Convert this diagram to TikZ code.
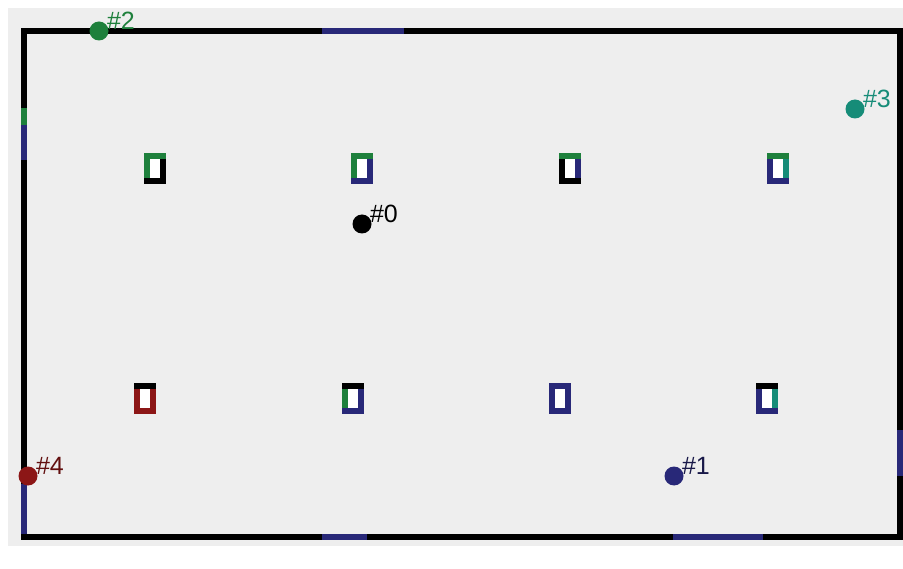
\documentclass[tikz,border=0pt]{standalone}
\usepackage{fontspec}
\setmainfont{Liberation Sans}
\definecolor{bggray}{RGB}{238,238,238}
\definecolor{agreen}{RGB}{30,128,60}
\definecolor{ateal}{RGB}{22,140,120}
\definecolor{anavy}{RGB}{40,40,120}
\definecolor{ared}{RGB}{140,22,22}
\tikzset{
  robot/.style={circle, fill=#1, inner sep=0pt, minimum size=19pt},
  tag/.style={text=#1, inner sep=0pt, font=\fontsize{25}{25}\selectfont, anchor=west},
  side/.style={line width=6pt, draw=#1},
}
\begin{document}
\begin{tikzpicture}[x=1pt, y=-1pt]
    \useasboundingbox (0,0) rectangle (903,569);
    \fill[bggray] (8,8) rectangle (903,546);
    % arena border with the coloured pieces on it
    \draw[line width=5.5pt] (24,31) rectangle (900,537);
    \draw[line width=5.5pt, anavy] (322,31) -- (404,31);
    \draw[line width=5.5pt, agreen] (24,108) -- (24,125);
    \draw[line width=5.5pt, anavy] (24,125) -- (24,160);
    \draw[line width=5.5pt, anavy] (24,484) -- (24,534);
    \draw[line width=5.5pt, anavy] (900,430) -- (900,476);
    \draw[line width=5.5pt, anavy] (322,537) -- (367,537);
    \draw[line width=5.5pt, anavy] (673,537) -- (763,537);

    % markers: \x,\y, then left, top, right, bottom colours
    \foreach \x/\y/\l/\t/\r/\b in {155/169/agreen/agreen/black/black,
                                   362/169/agreen/agreen/anavy/anavy,
                                   570/169/black/agreen/anavy/black,
                                   778/169/anavy/agreen/ateal/anavy,
                                   145/399/ared/black/ared/ared,
                                   353/399/agreen/black/anavy/anavy,
                                   560/399/anavy/anavy/anavy/anavy,
                                   767/399/anavy/black/ateal/anavy}
    {
      \fill[white] (\x-8,\y-12.5) rectangle (\x+8,\y+12.5);
      \draw[side=\l, line cap=rect] (\x-8,\y+12.5) -- (\x-8,\y-12.5);
      \draw[side=\r, line cap=rect] (\x+8,\y+12.5) -- (\x+8,\y-12.5);
      \draw[side=\t] (\x-11,\y-12.5) -- (\x+11,\y-12.5);
      \draw[side=\b] (\x-11,\y+12.5) -- (\x+11,\y+12.5);
    }

    % robots and their numbers
    \node[robot=black] (r0) at (362,224) {};
    \node[robot=anavy] (r1) at (674,476) {};
    \node[robot=agreen] (r2) at (99,31) {};
    \node[robot=ateal] (r3) at (855,109) {};
    \node[robot=ared] (r4) at (28,476) {};
    \path (r0.north east) node[tag=black, xshift=1pt, yshift=3pt] {\#0};
    \path (r1.north east) node[tag={anavy!60!black}, xshift=1pt, yshift=3pt] {\#1};
    \path (r2.north east) node[tag=agreen, xshift=1pt, yshift=3pt] {\#2};
    \path (r3.north east) node[tag=ateal, xshift=1pt, yshift=3pt] {\#3};
    \path (r4.north east) node[tag={ared!70!black}, xshift=1pt, yshift=3pt] {\#4};
\end{tikzpicture}
\end{document}
